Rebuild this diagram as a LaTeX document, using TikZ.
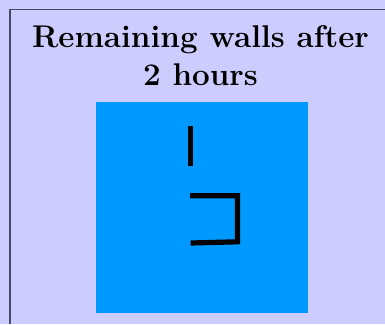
\documentclass[tikz,border=0pt]{standalone}
\definecolor{lav}{HTML}{CCCCFF}
\definecolor{sq}{HTML}{0099FF}
\definecolor{frame}{HTML}{4A4A68}
\tikzset{
  wall/.style={line width=5.2pt, draw=black, line join=miter},
  titletext/.style={align=center, font=\fontsize{31.4}{38.4}\selectfont\bfseries, inner sep=0pt}
}
\begin{document}
\begin{tikzpicture}[x=1pt,y=-1pt]
\useasboundingbox (0,0) rectangle (385,324);
\fill[lav] (0,0) rectangle (385,324);
\draw[frame, line width=1.8pt] (10,324) -- (10,9.5) -- (385,9.5);
\node[titletext, anchor=base] (title) at (200.5,85.7) {Remaining walls after\\2 hours};
\fill[sq] (96,102) rectangle (308,312.7);
\coordinate (v1) at (190.2,125.7);
\coordinate (v2) at (190.2,165.7);
\draw[wall] (v1) -- (v2);
\coordinate (b1) at (190,195.8);
\coordinate (b2) at (237.5,195.8);
\coordinate (b3) at (237.5,241.8);
\coordinate (b4) at (190.7,243.0);
\draw[wall] (b1) -- (b2) -- (b3) -- (b4);
\end{tikzpicture}
\end{document}
